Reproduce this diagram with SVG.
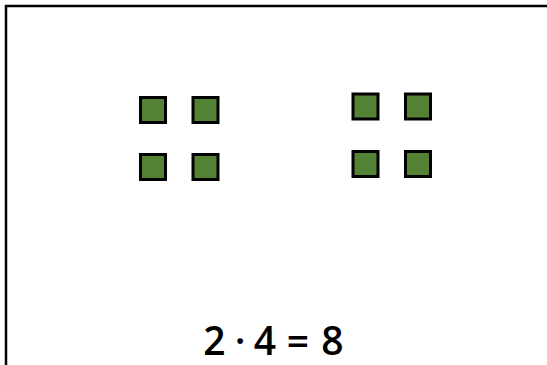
<svg xmlns="http://www.w3.org/2000/svg" width="547" height="365" viewBox="0 0 547 365">
<style>
.sq{fill:#548235;stroke:#000;stroke-width:3}
.frame{fill:none;stroke:#000;stroke-width:2.5}
.eq{font-family:"Open Sans",sans-serif;font-size:39px;font-weight:600;fill:#000;text-anchor:middle}
</style>
<rect width="547" height="365" fill="#fff"/>
<path class="frame" d="M6,365 V6 H547"/>
<g id="left-group">
<rect id="l1" class="sq" x="140.5" y="97.5" width="25" height="25"/>
<rect id="l2" class="sq" x="193" y="97.5" width="25" height="25"/>
<rect id="l3" class="sq" x="140.5" y="154.5" width="25" height="25"/>
<rect id="l4" class="sq" x="193" y="154.5" width="25" height="25"/>
</g>
<g id="right-group">
<rect id="r1" class="sq" x="353" y="94" width="25" height="25"/>
<rect id="r2" class="sq" x="405.5" y="94" width="25" height="25"/>
<rect id="r3" class="sq" x="353" y="151.5" width="25" height="25"/>
<rect id="r4" class="sq" x="405.5" y="151.5" width="25" height="25"/>
</g>
<g id="connectors"/>
<text id="equation" class="eq" y="355"><tspan x="214.5">2</tspan><tspan x="240">·</tspan><tspan x="265">4</tspan><tspan x="298">=</tspan><tspan x="332.5">8</tspan></text>
</svg>
